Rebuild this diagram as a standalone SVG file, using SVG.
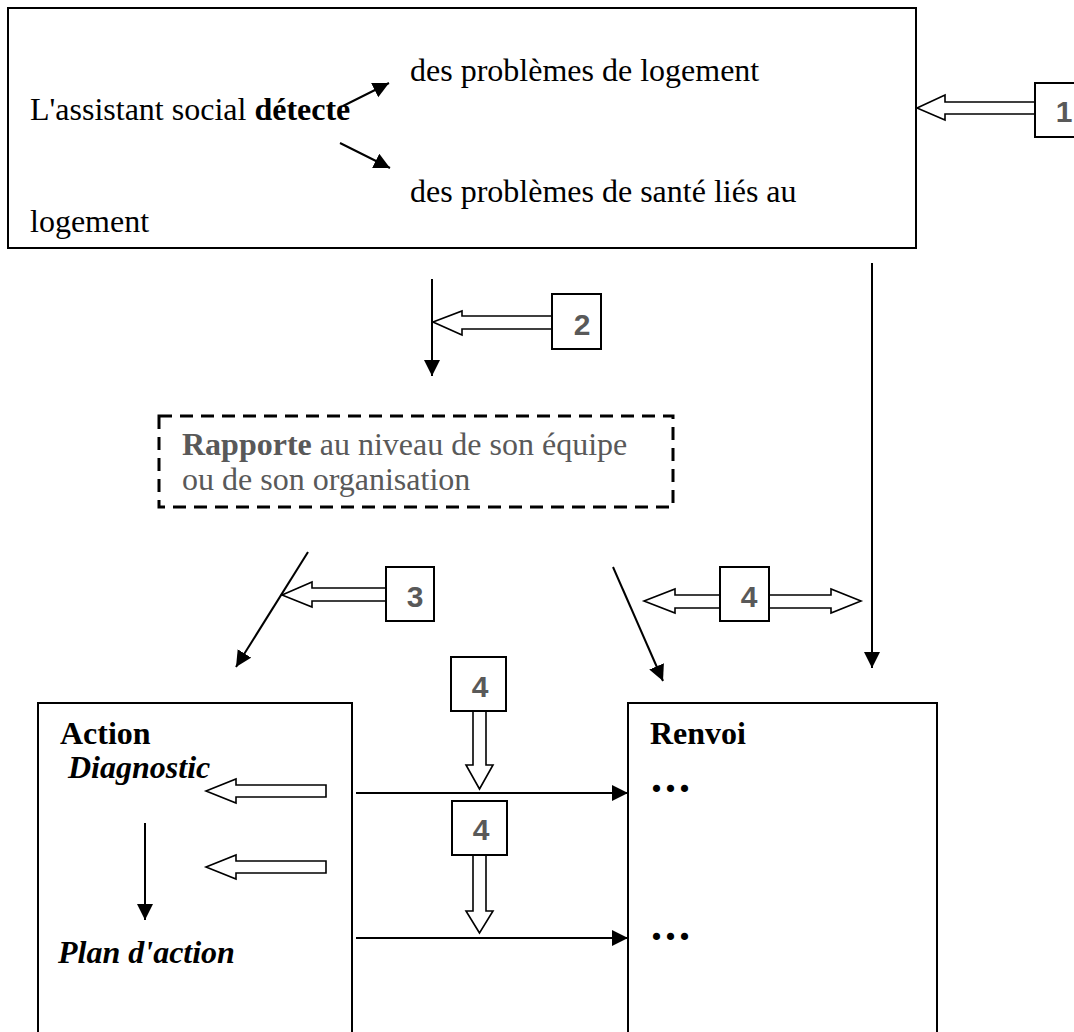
<svg xmlns="http://www.w3.org/2000/svg" width="1074" height="1032" viewBox="0 0 1074 1032">
  <style>
    .box { fill: #fff; stroke: #000; stroke-width: 2; }
    .dash { fill: none; stroke: #000; stroke-width: 3; stroke-dasharray: 13 8; }
    .t { font-family: "Liberation Serif", "Times New Roman", serif; font-size: 32px; fill: #000; }
    .g { fill: #595959; }
    .b { font-weight: bold; }
    .bi { font-weight: bold; font-style: italic; }
    .dots { font-family: "Liberation Serif", "Times New Roman", serif; font-weight: bold; font-size: 44px; letter-spacing: 3px; fill: #000; }
    .num { font-family: "Liberation Sans", Arial, sans-serif; font-weight: bold; font-size: 30px; fill: #595959; text-anchor: middle; }
    .line { stroke: #000; stroke-width: 2; fill: none; }
    .hollow { fill: #fff; stroke: #000; stroke-width: 1.6; stroke-linejoin: miter; }
  </style>
  <defs>
    <marker id="head" markerUnits="userSpaceOnUse" markerWidth="17" markerHeight="17" refX="16" refY="8" orient="auto">
      <path d="M0,0 L16,8 L0,16 z" fill="#000"/>
    </marker>
  </defs>

  <rect width="1074" height="1032" fill="#fff"/>

  <!-- detection box -->
  <g id="detecte">
    <rect class="box" x="8" y="8" width="908" height="240"/>
    <text class="t" x="30" y="120">L'assistant social <tspan class="b">détecte</tspan></text>
    <text class="t" x="410" y="81">des problèmes de logement</text>
    <text class="t" x="410" y="202">des problèmes de santé liés au</text>
    <text class="t" x="30" y="232">logement</text>
  </g>

  <!-- reporting box -->
  <g id="rapporte">
    <rect class="dash" x="159" y="416" width="514" height="91"/>
    <text class="t g" x="182" y="455"><tspan class="b">Rapporte</tspan> au niveau de son équipe</text>
    <text class="t g" x="182" y="490">ou de son organisation</text>
  </g>

  <!-- action box -->
  <g id="action">
    <rect class="box" x="38" y="703" width="314" height="340"/>
    <text class="t b" x="60" y="744">Action</text>
    <text class="t bi" x="68" y="778">Diagnostic</text>
    <text class="t bi" x="58" y="963">Plan d'action</text>
  </g>

  <!-- referral box -->
  <g id="renvoi">
    <rect class="box" x="628" y="703" width="309" height="340"/>
    <text class="t b" x="650" y="744">Renvoi</text>
    <text class="dots" x="651" y="792">...</text>
    <text class="dots" x="651" y="940">...</text>
  </g>

  <!-- connectors -->
  <g id="connectors">
    <line class="line" x1="343" y1="106" x2="389" y2="83" marker-end="url(#head)"/>
    <line class="line" x1="340" y1="143" x2="390" y2="168" marker-end="url(#head)"/>
    <line class="line" x1="432" y1="279" x2="432" y2="376" marker-end="url(#head)"/>
    <line class="line" x1="872" y1="263" x2="872" y2="668" marker-end="url(#head)"/>
    <line class="line" x1="308" y1="552" x2="236" y2="667" marker-end="url(#head)"/>
    <line class="line" x1="613" y1="567" x2="663" y2="681" marker-end="url(#head)"/>
    <line class="line" x1="145" y1="823" x2="145" y2="920" marker-end="url(#head)"/>
    <line class="line" x1="356" y1="793" x2="628" y2="793" marker-end="url(#head)"/>
    <line class="line" x1="356" y1="938" x2="628" y2="938" marker-end="url(#head)"/>

    <!-- hollow arrows -->
    <polygon class="hollow" points="917,108 945,95 945,102 1035,102 1035,114 945,114 945,120"/>
    <polygon class="hollow" points="433,322 462,311 462,316 552,316 552,329 462,329 462,335"/>
    <polygon class="hollow" points="282,595 312,582 312,588 386,588 386,601 312,601 312,607"/>
    <polygon class="hollow" points="644,601 675,589 675,595 720,595 720,608 675,608 675,613"/>
    <polygon class="hollow" points="861,601 831,589 831,595 769,595 769,608 831,608 831,613"/>
    <polygon class="hollow" points="479.5,789 466,765 473,765 473,711 486,711 486,765 493,765"/>
    <polygon class="hollow" points="479.5,933 466,911 473,911 473,855 486,855 486,911 493,911"/>
    <polygon class="hollow" points="206,791 236,779 236,785 326,785 326,797 236,797 236,803"/>
    <polygon class="hollow" points="206,867 236,855 236,861 326,861 326,873 236,873 236,879"/>
  </g>

  <!-- numbered tags -->
  <g id="tag1"><rect class="box" x="1035" y="83" width="49" height="54"/><text class="num" x="1064" y="122">1</text></g>
  <g id="tag2"><rect class="box" x="552" y="294" width="49" height="55"/><text class="num" x="582" y="335">2</text></g>
  <g id="tag3"><rect class="box" x="386" y="567" width="48" height="54"/><text class="num" x="415" y="607">3</text></g>
  <g id="tag4a"><rect class="box" x="720" y="567" width="49" height="54"/><text class="num" x="749" y="607">4</text></g>
  <g id="tag4b"><rect class="box" x="451" y="657" width="55" height="54"/><text class="num" x="480" y="697">4</text></g>
  <g id="tag4c"><rect class="box" x="452" y="801" width="55" height="54"/><text class="num" x="481" y="840">4</text></g>
</svg>
